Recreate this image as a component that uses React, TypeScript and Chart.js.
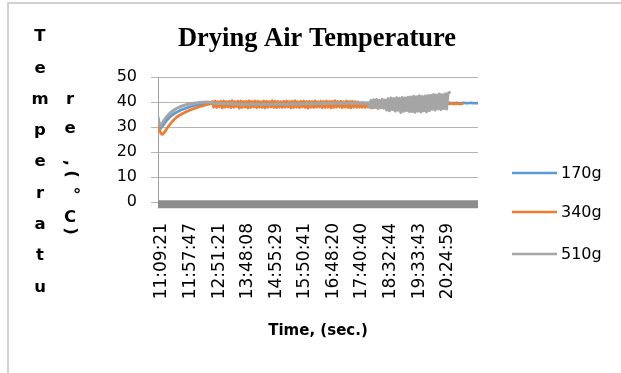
import { useEffect, useRef } from "react";
import { Chart, registerables } from "chart.js";

Chart.register(...registerables);

// ---- data ----
const TITLE = "Drying Air Temperature";
const X_TITLE = "Time, (sec.)";
const Y_TITLE_COL1 = ["T", "e", "m", "p", "e", "r", "a", "t", "u"];
const Y_TITLE_COL2 = ["r", "e", ",", "(", "°", "C", ")"];

const TICK_LABELS = [
  "11:09:21", "11:57:47", "12:51:21", "13:48:08", "14:55:29", "15:50:41",
  "16:48:20", "17:40:40", "18:32:44", "19:33:43", "20:24:59",
];
const LABEL_STEP = 20;
const LAST_INDEX = 224;

const SERIES_NAMES = ["170g", "340g", "510g"];
const SERIES_COLORS = ["#5b9bd5", "#ed7d31", "#a5a5a5"];

const BLUE_170 = [
  31, 30, 29.5, 30.2, 31, 31.8, 32.5, 33.2, 33.8, 34.3,
  34.8, 35.2, 35.6, 35.9, 36.2, 36.5, 36.8, 37, 37.2, 37.4,
  37.6, 37.8, 38, 38.2, 38.3, 38.5, 38.6, 38.8, 38.9, 39,
  39.1, 39.2, 39.3, 39.4, 39.5, 39.5, 39.6, 39.6,
  39.6, 39.7, 39.5, 39.6, 39.8, 39.6, 39.5, 39.7, 39.6, 39.6,
  39.7, 39.5, 39.6, 39.6, 39.8, 39.7, 39.5, 39.6, 39.7, 39.6,
  39.5, 39.6, 39.7, 39.6, 39.6, 39.8, 39.6, 39.5, 39.6, 39.7,
  39.6, 39.6, 39.5, 39.7, 39.6, 39.8, 39.6, 39.6, 39.5, 39.7,
  39.6, 39.7, 39.6, 39.5, 39.6, 39.6, 39.7, 39.6, 39.8, 39.6,
  39.5, 39.6, 39.7, 39.6, 39.6, 39.5, 39.7, 39.6, 39.6, 39.8,
  39.6, 39.5, 39.6, 39.7, 39.6, 39.6, 39.5, 39.7, 39.6, 39.6,
  39.7, 39.6, 39.5, 39.6, 39.6, 39.7, 39.6, 39.6, 39.5, 39.6,
  39.7, 39.6, 39.6, 39.5, 39.6, 39.7, 39.6, 39.6, 39.5, 39.6,
  39.6, 39.7, 39.6, 39.5, 39.6, 39.8, 39.6, 39.5, 39.7, 39.6,
  39.6, 39.7, 39.5, 39.6, 39.6, 39.8, 39.7, 39.5, 39.6, 39.7,
  39.6, 39.5, 39.6, 39.7, 39.6, 39.6, 39.8, 39.6, 39.5, 39.6,
  39.7, 39.6, 39.6, 39.5, 39.7, 39.6, 39.8, 39.6, 39.6, 39.5,
  39.7, 39.6, 39.7, 39.6, 39.5, 39.6, 39.6, 39.7, 39.6, 39.8,
  39.6, 39.5, 39.6, 39.7, 39.6, 39.6, 39.5, 39.7, 39.6, 39.6,
  39.7, 39.6, 39.5, 39.6, 39.7, 39.6, 39.6, 39.5, 39.6, 39.7,
  39.6, 39.6, 39.5, 39.7, 39.6, 39.6, 39.7, 39.6, 39.5, 39.6,
  39.6, 39.7, 39.6, 39.5, 39.6, 39.6, 39.7, 39.6, 39.6, 39.5,
  39.6, 39.7, 39.6, 39.6, 39.5, 39.6, 39.6,
];

const ORANGE_340 = [
  31, 29, 27.5, 27, 27.5, 28.3, 29.2, 30, 30.8, 31.5,
  32.2, 32.8, 33.4, 33.9, 34.3, 34.7, 35, 35.3, 35.6, 35.9,
  36.2, 36.4, 36.7, 36.9, 37.1, 37.3, 37.5, 37.7, 37.9, 38.1,
  38.3, 38.4, 38.6, 38.7, 38.9, 39, 39.2, 39.3,
  40.2, 37.9, 40.4, 37.8, 40.1, 38.1, 40.3, 37.6, 40.4, 37.9,
  40.2, 38.0, 40.3, 37.7, 40.5, 37.9, 40.2, 38.1, 40.3, 37.5,
  40.4, 37.8, 40.2, 37.9, 40.3, 37.6, 40.5, 37.8, 40.2, 38.0,
  40.4, 37.7, 40.3, 37.9, 40.1, 37.8, 40.4, 37.6, 40.3, 37.9,
  40.2, 38.0, 40.5, 37.8, 40.3, 37.7, 40.2, 37.9, 40.1, 37.8,
  40.3, 37.9, 40.4, 38.0, 40.2, 37.6, 40.3, 37.8, 40.5, 37.9,
  40.1, 37.7, 40.3, 38.0, 40.4, 37.8, 40.2, 37.5, 40.3, 37.9,
  40.2, 37.8, 40.4, 37.9, 40.1, 38.0, 40.3, 37.7, 40.2, 37.8,
  40.4, 37.9, 40.2, 37.6, 40.3, 37.8, 40.5, 37.9, 40.2, 38.0,
  40.3, 37.7, 40.1, 37.9, 40.4, 37.8, 40.2, 37.6, 40.3, 37.9,
  40.1, 37.8, 40.0, 37.9,
  39.3, 37.9, 39.2, 37.8, 39.3, 38.0, 39.1, 37.7, 39.2, 37.9,
  39.3, 38.0, 39.2, 37.8, 39.1, 37.9, 39.2, 38.0,
  39.0, 38.6, 39.1, 38.5, 39.0, 38.7, 39.2, 38.6, 39.0, 38.5,
  39.1, 38.7, 39.0, 38.6, 39.2, 38.5, 39.0, 38.7, 39.1, 38.6,
  39.0, 38.5, 39.1, 38.7, 39.0, 38.6, 39.2, 38.5, 39.0, 38.7,
  39.1, 38.6, 39.0, 38.5, 39.1, 38.7, 39.0, 38.6, 39.2, 38.8,
  39.1, 39.0, 39.2, 39.3,
  39.4, 39.3, 39.5, 39.2, 39.4, 39.3, 39.4, 39.2, 39.3, 39.3,
];

const GRAY_510 = [
  34, 31, 30.5, 31.5, 32.5, 33.3, 34, 34.7, 35.3, 35.8,
  36.3, 36.7, 37.1, 37.4, 37.7, 38, 38.2, 38.4, 38.6, 38.8,
  38.9, 39.1, 39.2, 39.3, 39.4, 39.5, 39.6, 39.6, 39.7, 39.8,
  39.8, 39.9, 39.9, 39.9, 40, 39.9, 39.8, 39.7,
  39.6, 39.5, 39.5, 39.4, 39.5, 39.3, 39.4, 39.4, 39.3, 39.4,
  39.2, 39.3, 39.3, 39.2, 39.3, 39.1, 39.2, 39.2, 39.1, 39.2,
  39.1, 39.2, 39.0, 39.1, 39.2, 39.1, 39.0, 39.1, 39.2, 39.1,
  39.0, 39.1, 39.2, 39.1, 39.0, 39.1, 39.0, 39.2, 39.1, 39.0,
  39.1, 39.2, 39.1, 39.0, 39.1, 39.2, 39.1, 39.2, 39.1, 39.1,
  39.2, 39.1, 39.0, 39.1, 39.2, 39.1, 39.2, 39.3, 39.2, 39.1,
  39.2, 39.3, 39.2, 39.3, 39.2, 39.3, 39.4, 39.3, 39.2, 39.3,
  39.4, 39.3, 39.4, 39.3, 39.4, 39.5, 39.4, 39.3, 39.4, 39.5,
  39.4, 39.5, 39.4, 39.5, 39.6, 39.5, 39.4, 39.5, 39.6, 39.5,
  39.4, 39.5, 39.6, 39.5, 39.4, 39.6, 39.5, 39.4, 39.6, 39.5,
  39.5, 39.6, 39.4, 39.5, 39.6, 39.5, 39.4, 39.6, 39.5, 39.5,
  38.0, 40.6, 37.6, 40.9, 37.8, 41.0, 37.4, 40.7, 37.7, 41.1, 37.5, 40.8,
  36.8, 41.3, 36.5, 41.6, 37.0, 41.4, 36.4, 41.7, 36.7, 41.5, 35.8, 41.8, 36.3, 41.6, 36.6, 41.9, 36.2,
  42.0, 36.2, 42.3, 35.9, 42.1, 36.4, 42.5, 36.0, 42.2, 36.5, 42.4, 36.1, 42.6, 36.6,
  42.7, 37.1, 43.0, 36.8, 42.8, 37.3, 43.2, 37.0, 42.9, 37.4, 43.3, 37.2, 43.5,
  43.8,
];

// thick grey strip lying just under the zero line
const BASE_BAND = [
  { x: 0, y: -0.9 },
  { x: LAST_INDEX, y: -0.9 },
];

const Y_MIN = 0;
const Y_MAX = 50;
const Y_STEP = 10;

const toPoints = (arr: number[]) => arr.map((y, i) => ({ x: i, y }));

export default function App() {
  const ref = useRef<HTMLCanvasElement | null>(null);

  useEffect(() => {
    if (!ref.current) return;

    const decor = {
      id: "decor",
      afterDraw(chart: any) {
        const ctx = chart.ctx as CanvasRenderingContext2D;
        const ca = chart.chartArea;
        const cx = (ca.left + ca.right) / 2;
        ctx.save();
        ctx.fillStyle = "#000";

        // title
        ctx.font = "bold 26.5px 'Liberation Serif'";
        ctx.textAlign = "center";
        ctx.textBaseline = "alphabetic";
        ctx.fillText(TITLE, cx - 1, 46);

        // x title
        ctx.font = "bold 15px 'DejaVu Sans'";
        ctx.textBaseline = "middle";
        ctx.fillText(X_TITLE, cx, 331);

        // y title, stacked letters
        ctx.font = "bold 16.5px 'DejaVu Sans'";
        Y_TITLE_COL1.forEach((ch, i) => {
          ctx.fillText(ch, 40, 37 + i * 31.3);
        });
        const col2Pos: [number, number, boolean][] = [
          [70, 100, false],
          [70, 129, false],
          [69, 163, true],
          [71, 174, true],
          [77, 196, false],
          [70, 218, false],
          [70, 231, true],
        ];
        Y_TITLE_COL2.forEach((ch, i) => {
          const [x, y, rot] = col2Pos[i];
          ctx.save();
          ctx.translate(x, y);
          if (rot) ctx.rotate(Math.PI / 2);
          ctx.fillText(ch, 0, 0);
          ctx.restore();
        });

        // legend
        const legendY = [173, 212, 254];
        ctx.font = "16px 'DejaVu Sans'";
        ctx.textAlign = "left";
        SERIES_NAMES.forEach((name, i) => {
          ctx.strokeStyle = SERIES_COLORS[i];
          ctx.lineWidth = 2.5;
          ctx.beginPath();
          ctx.moveTo(512, legendY[i]);
          ctx.lineTo(557, legendY[i]);
          ctx.stroke();
          ctx.fillStyle = "#000";
          ctx.fillText(name, 561, legendY[i] + 1);
        });
        ctx.restore();
      },
    };

    const lineStyle = {
      pointRadius: 0,
      tension: 0,
      borderJoinStyle: "round" as const,
      borderCapStyle: "round" as const,
    };

    const chart = new Chart(ref.current, {
      type: "line",
      data: {
        datasets: [
          {
            label: SERIES_NAMES[0],
            data: toPoints(BLUE_170),
            borderColor: SERIES_COLORS[0],
            borderWidth: 2.75,
            order: 3,
            ...lineStyle,
          },
          {
            label: SERIES_NAMES[1],
            data: toPoints(ORANGE_340),
            borderColor: SERIES_COLORS[1],
            borderWidth: 2.75,
            order: 2,
            ...lineStyle,
          },
          {
            label: SERIES_NAMES[2],
            data: toPoints(GRAY_510),
            borderColor: SERIES_COLORS[2],
            borderWidth: 3,
            order: 1,
            ...lineStyle,
          },
          {
            label: "base",
            data: BASE_BAND,
            borderColor: "#8c8c8c",
            borderWidth: 8,
            borderCapStyle: "butt",
            pointRadius: 0,
            clip: false as any,
            order: 4,
          },
        ],
      },
      options: {
        responsive: false,
        animation: false,
        layout: { padding: { left: 0, top: 77, right: 143, bottom: 41 } },
        plugins: {
          legend: { display: false },
          tooltip: { enabled: false },
          title: { display: false },
        },
        scales: {
          x: {
            type: "linear",
            min: 0,
            max: LAST_INDEX,
            grid: { display: false, drawTicks: false },
            border: { display: false },
            ticks: {
              stepSize: LABEL_STEP,
              autoSkip: false,
              minRotation: 90,
              maxRotation: 90,
              padding: 21,
              labelOffset: 4,
              color: "#000",
              font: { family: "DejaVu Sans", size: 17 },
              callback: (v: any) => TICK_LABELS[Number(v) / LABEL_STEP] ?? "",
            },
            afterFit: (s: any) => {
              s.height = 130;
              s.paddingLeft = 0;
              s.paddingRight = 0;
            },
          },
          y: {
            min: Y_MIN,
            max: Y_MAX,
            ticks: {
              stepSize: Y_STEP,
              padding: 14,
              color: "#000",
              font: { family: "DejaVu Sans", size: 16 },
            },
            grid: { color: "#b4b4b4", tickLength: 7, lineWidth: 1 },
            border: { color: "#a0a0a0" },
            afterFit: (s: any) => {
              s.width = 158;
              s.paddingTop = 0;
              s.paddingBottom = 0;
            },
          },
        },
      },
      plugins: [decor],
    });

    return () => chart.destroy();
  }, []);

  return (
    <div style={{ position: "fixed", left: 0, top: 0, width: 621, height: 373, background: "#fff" }}>
      <div
        style={{
          position: "absolute",
          left: 7,
          top: 2,
          width: 614,
          height: 371,
          borderLeft: "2px solid #d0d0d0",
          borderTop: "2px solid #d0d0d0",
          boxSizing: "border-box",
        }}
      />
      <canvas ref={ref} width={621} height={373} style={{ position: "absolute", left: 0, top: 0 }} />
    </div>
  );
}
